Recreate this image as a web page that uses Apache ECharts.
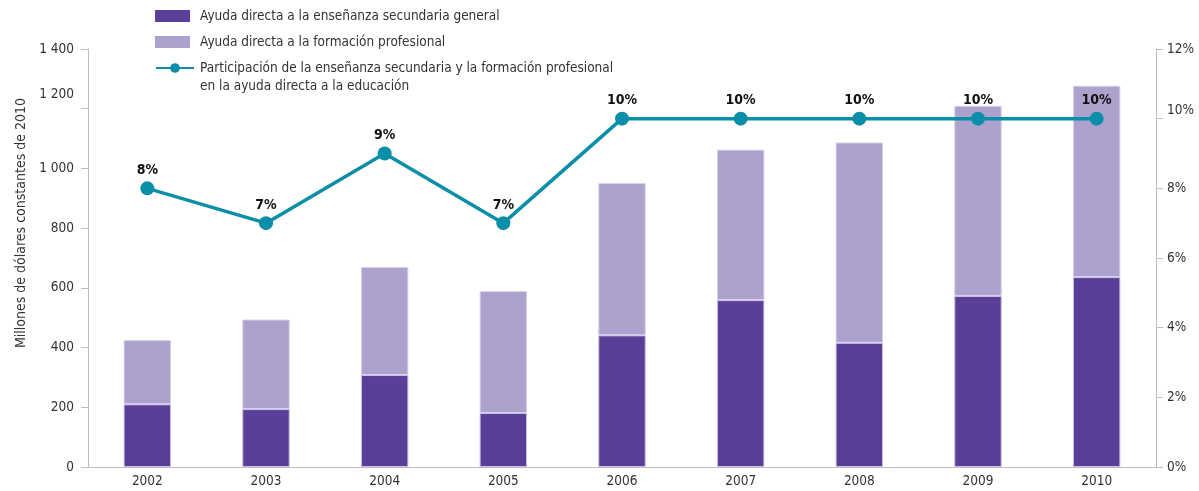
<!DOCTYPE html>
<html>
<head>
<meta charset="utf-8">
<script src="https://cdn.jsdelivr.net/npm/echarts@6/dist/echarts.min.js"></script>
<style>
html,body{margin:0;padding:0;background:#fff;}
#chart{width:1199px;height:491px;}
</style>
</head>
<body>
<div id="chart"></div>
<script>
var years = ['2002','2003','2004','2005','2006','2007','2008','2009','2010'];
var generalAid = [210, 194, 308, 181, 441, 559, 416, 573, 636];
var vocationalAid = [215, 300, 362, 408, 510, 504, 671, 637, 641];
var sharePct = [8, 7, 9, 7, 10, 10, 10, 10, 10];
var leftTicks = [0, 200, 400, 600, 800, 1000, 1200, 1400];
var rightTicks = [0, 2, 4, 6, 8, 10, 12];

var nameGeneral = 'Ayuda directa a la enseñanza secundaria general';
var nameVoc = 'Ayuda directa a la formación profesional';
var nameShare = 'Participación de la enseñanza secundaria y la formación profesional\nen la ayuda directa a la educación';

var FONT = "'Liberation Sans Narrow', 'DejaVu Sans Condensed', 'Roboto Condensed', 'Liberation Sans', sans-serif";
var chart = echarts.init(document.getElementById('chart'));

function fmtThousands(v){
  var s = String(v);
  if (s.length > 3) s = s.slice(0, s.length-3) + ' ' + s.slice(-3);
  return s;
}

chart.setOption({
  animation: false,
  textStyle: {fontFamily: FONT},
  grid: {left: 88, right: 43, top: 49, bottom: 24, containLabel: false},
  legend: [{
    orient: 'vertical', left: 155, top: 7, padding: 0, itemGap: 8,
    itemWidth: 35, itemHeight: 12,
    data: [
      {name: nameGeneral, icon: 'rect', itemStyle: {borderWidth: 0}},
      {name: nameVoc, icon: 'rect', itemStyle: {borderWidth: 0}}
    ],
    textStyle: {fontFamily: FONT, fontSize: 13.5, color: '#333', lineHeight: 18, padding: [0,0,0,5]}
  },{
    orient: 'vertical', left: 155, top: 41, padding: 0,
    itemWidth: 38, itemHeight: 12,
    data: [{name: nameShare}],
    formatter: function(name){ return ' \n' + name; },
    textStyle: {fontFamily: FONT, fontSize: 13.5, color: '#333', lineHeight: 18, padding: [0,0,0,1]}
  }],
  xAxis: {
    type: 'category', data: years,
    axisLine: {lineStyle: {color: '#bdbdbd', width: 1}},
    axisTick: {show: false},
    axisLabel: {color: '#333', fontSize: 13.5, fontFamily: FONT, margin: 7}
  },
  yAxis: [{
    type: 'value', min: 0, max: 1400, interval: 200,
    name: 'Millones de dólares constantes de 2010',
    nameLocation: 'middle', nameRotate: 90, nameGap: 60,
    nameTextStyle: {color: '#333', fontSize: 14, fontFamily: FONT, padding: [0,0,0,70]},
    axisLine: {show: true, lineStyle: {color: '#bdbdbd'}},
    axisTick: {show: true, length: 7, lineStyle: {color: '#bdbdbd'}},
    splitLine: {show: false},
    axisLabel: {
      color: '#333', fontSize: 13.5, fontFamily: FONT, margin: 14,
      formatter: function(v){ return v === 1200 ? '{up|' + fmtThousands(v) + '}' : fmtThousands(v); },
      rich: {up: {fontSize: 13.5, fontFamily: FONT, color: '#333', padding: [0,0,28,0]}}
    }
  },{
    type: 'value', min: 0, max: 12, interval: 2, position: 'right',
    axisLine: {show: true, lineStyle: {color: '#bdbdbd'}},
    axisTick: {show: true, length: 7, lineStyle: {color: '#bdbdbd'}},
    splitLine: {show: false},
    axisLabel: {color: '#333', fontSize: 13.5, fontFamily: FONT, margin: 11,
      formatter: function(v){ return v === 10 ? '{up|10%}' : v + '%'; },
      rich: {up: {fontSize: 13.5, fontFamily: FONT, color: '#333', padding: [0,0,16,0]}}
    }
  }],
  series: [{
    name: nameGeneral, type: 'bar', stack: 'a', barWidth: '40%',
    data: generalAid,
    itemStyle: {color: '#5a3f98', borderColor: '#cbc2e3', borderWidth: 1}
  },{
    name: nameVoc, type: 'bar', stack: 'a', barWidth: '40%',
    data: vocationalAid,
    itemStyle: {color: '#ada1ce', borderColor: '#d9d2ec', borderWidth: 1}
  },{
    name: nameShare, type: 'line', yAxisIndex: 1, z: 5,
    data: sharePct,
    symbol: 'circle', symbolSize: 14,
    lineStyle: {color: '#0b8ea8', width: 3.5},
    itemStyle: {color: '#0b8ea8'},
    label: {show: true, position: 'top', distance: 4, formatter: '{c}%',
      fontFamily: FONT, fontWeight: 'bold', fontSize: 14, color: '#111'}
  }]
});
</script>
</body>
</html>
